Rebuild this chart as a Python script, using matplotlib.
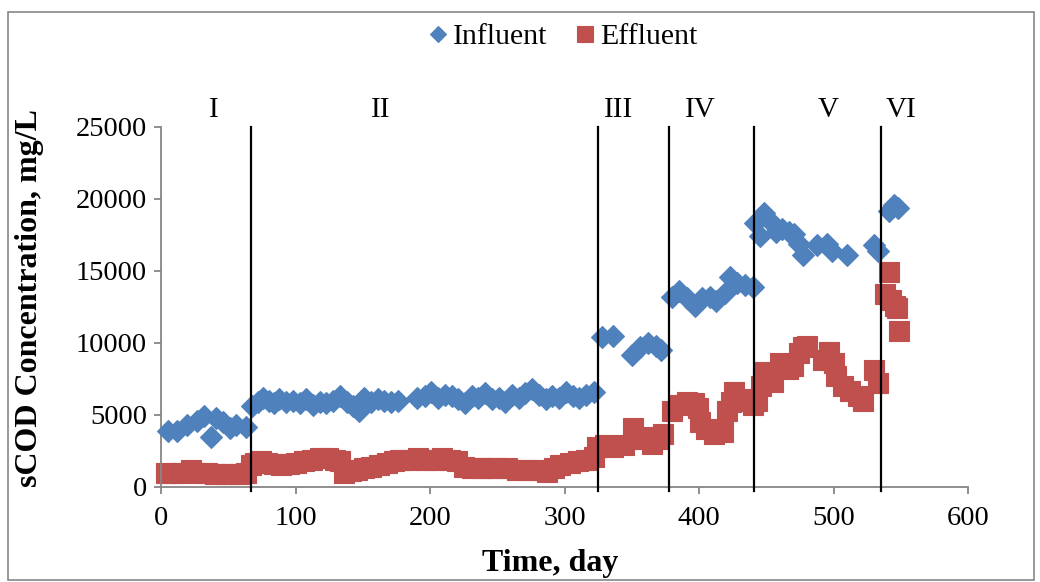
import matplotlib
matplotlib.use("Agg")
import matplotlib.pyplot as plt
from matplotlib.patches import Rectangle

# Influent sCOD (mg/L) by operating day
influent_days = [5, 12, 19, 27, 32, 37, 41, 46, 51, 56, 63,
                 68, 72, 76, 80, 84, 88, 93, 98, 103, 108, 113, 118, 123, 128, 133, 138,
                 143, 147, 151, 156, 161, 166, 171, 176, 190, 196, 201, 206, 211, 216,
                 221, 226, 231, 236, 241, 246, 251, 256, 261, 266, 271, 276, 281, 286,
                 291, 296, 301, 306, 311, 316, 322,
                 328, 336, 350, 356, 362, 368, 372,
                 380, 385, 391, 397, 402, 408, 413, 419, 423, 428, 434, 440,
                 442, 445, 448, 453, 457, 462, 467, 471, 474, 477, 488, 495, 499, 510,
                 530, 533,
                 541, 545, 548]
influent_cod = [3900, 3900, 4300, 4600, 4900, 3500, 4800, 4500, 4100, 4300, 4200,
                5600, 5900, 6200, 6000, 5800, 6100, 5900, 6000, 5800, 6100, 5700, 5900,
                5800, 6000, 6300, 5900, 5600, 5300, 6200, 5900, 6100, 6000, 5900, 6000,
                6200, 6300, 6600, 6200, 6400, 6300, 6100, 5800, 6300, 6200, 6500, 6100,
                6200, 5900, 6400, 6200, 6500, 6800, 6400, 6100, 6300, 6200, 6600, 6300,
                6200, 6400, 6600,
                10400, 10500, 9200, 9700, 10000, 9800, 9500,
                13200, 13600, 13100, 12600, 13100, 13200, 12900, 13500, 14600, 14200,
                14000, 13900,
                18300, 17400, 19000, 18500, 17700, 17900, 17700, 17600, 16900, 16100,
                16800, 16900, 16400, 16100, 16800, 16400,
                19200, 19600, 19400]

# Effluent sCOD (mg/L) by operating day
effluent_days = [4, 9, 15, 22, 28, 34, 40, 46, 52, 58, 63,
                 67, 70, 74, 79, 84, 89, 95, 100, 106, 112, 118, 124, 129, 133, 136, 141,
                 146, 151, 156, 162, 168, 173, 178, 185, 191, 197, 203, 209, 215, 220,
                 225, 231, 238, 244, 250, 257, 265, 272, 280, 287, 292, 297, 304, 310,
                 316, 322,
                 324, 330, 336, 344, 351, 356, 360, 365, 369, 373,
                 380, 385, 391, 396, 399, 401, 405, 411, 418, 421, 424, 426, 432, 437, 440,
                 443, 446, 448, 455, 460, 466, 470, 474, 477, 480, 492, 497, 500, 502,
                 507, 512, 518, 522, 530, 533,
                 538, 541, 543, 546, 547, 549]
effluent_cod = [1000, 1000, 1000, 1200, 1000, 1000, 900, 900, 900, 900, 1000,
                1500, 1700, 1800, 1700, 1600, 1500, 1600, 1700, 1800, 1900, 2000, 2000,
                1900, 1800, 1000, 1100, 1200, 1300, 1400, 1500, 1700, 1800, 1900, 1900,
                2000, 1900, 1900, 2000, 1900, 1800, 1400, 1300, 1300, 1300, 1300, 1300,
                1200, 1200, 1200, 1050, 1300, 1500, 1700, 1800, 1900, 2100,
                2800, 2900, 2800, 2900, 4100, 3300, 3500, 3000, 3300, 3700,
                5300, 5700, 5900, 5800, 5500, 4500, 4000, 3700, 3800, 5300, 5900, 6600,
                6100, 6000, 5700,
                6000, 7000, 8000, 7300, 8600, 8200, 8400, 9300, 9700, 9800, 8800, 9400,
                8600, 7700, 7000, 6700, 6300, 6000, 8100, 7200,
                13400, 14900, 13000, 12600, 12400, 10800]

# Operating phases: boundaries (days) and their labels
phase_bounds = [67, 325, 378, 441, 535]
phase_names = ["I", "II", "III", "IV", "V", "VI"]
phase_label_x = [39, 163, 340, 401, 496, 550]

x_ticks = [0, 100, 200, 300, 400, 500, 600]
y_ticks = [0, 5000, 10000, 15000, 20000, 25000]

BLUE = "#4F81BD"
RED = "#C0504D"
AXIS_GREY = "#868686"
FONT = ["Liberation Serif", "DejaVu Serif"]

plt.rcParams["font.family"] = FONT
plt.rcParams["font.size"] = 20

fig = plt.figure(figsize=(10.4, 5.82), dpi=100)
W, H = 1040, 582
ax = fig.add_axes([161 / W, 1 - 487 / H, (968 - 161) / W, (487 - 127) / H])

ax.plot(influent_days, influent_cod, linestyle="none", marker="D", markersize=10.8,
        color=BLUE, markeredgecolor=BLUE, markeredgewidth=0.8, label="Influent",
        clip_on=False, zorder=3)
ax.plot(effluent_days, effluent_cod, linestyle="none", marker="s", markersize=14.2,
        color=RED, markeredgecolor=RED, markeredgewidth=0.8, label="Effluent",
        clip_on=False, zorder=2)

for b in phase_bounds:
    ax.axvline(b, ymin=-0.012, ymax=1.0, color="black", linewidth=1.6, zorder=4,
               clip_on=False)

for name, xp in zip(phase_names, phase_label_x):
    ax.text(xp, 26200, name, ha="center", va="center", fontsize=21, clip_on=False)

ax.set_xlim(0, 600)
ax.set_ylim(0, 25000)
ax.set_xticks(x_ticks)
ax.set_yticks(y_ticks)

for side in ("top", "right"):
    ax.spines[side].set_visible(False)
for side in ("left", "bottom"):
    ax.spines[side].set_color(AXIS_GREY)
    ax.spines[side].set_linewidth(1.3)
ax.tick_params(axis="both", direction="out", length=5, width=1.3, color=AXIS_GREY,
               labelsize=20.5, labelcolor="black")
ax.tick_params(axis="y", pad=5)
ax.tick_params(axis="x", pad=9)

fig.text(30 / W, 1 - 298 / H, "sCOD Concentration, mg/L", rotation=90,
         ha="center", va="center", fontsize=23, fontweight="bold")
fig.text(550 / W, 1 - 563 / H, "Time, day", ha="center", va="center",
         fontsize=23, fontweight="bold")

fig.legend(loc="center", bbox_to_anchor=(561 / W, 1 - 37 / H), ncol=2, frameon=False,
           handletextpad=0.05, columnspacing=0.8, handlelength=0.9, fontsize=21.5,
           markerscale=0.8)

# Chart-area frame
fig.patches.append(Rectangle((8 / W, 2 / H), 1026 / W, 568 / H,
                             transform=fig.transFigure, fill=False,
                             edgecolor=AXIS_GREY, linewidth=1.2))

fig.savefig("out.png", dpi=100)
